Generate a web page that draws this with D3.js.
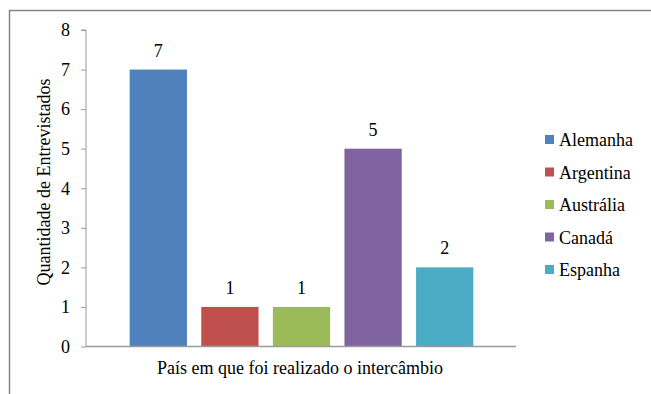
<!DOCTYPE html>
<html>
<head>
<meta charset="utf-8">
<script src="https://cdn.jsdelivr.net/npm/d3@7"></script>
</head>
<body style="margin:0">
<svg id="s" width="651" height="394"></svg>
<script>
// Entrevistados por país de intercâmbio
const countries = ["Alemanha", "Argentina", "Austrália", "Canadá", "Espanha"];
const counts = [7, 1, 1, 5, 2];
const colors = ["#4F81BD", "#C0504D", "#9BBB59", "#8064A2", "#4BACC6"];
const yTicks = [0, 1, 2, 3, 4, 5, 6, 7, 8];
const xTitle = "País em que foi realizado o intercâmbio";
const yTitle = "Quantidade de Entrevistados";

const FONT = '"Liberation Serif"';
const FS = "18px";

const svg = d3.select("#s");
const plot = { left: 86, right: 516, top: 30, bottom: 346.5 };

// Outer chart frame (runs past the right and bottom edges)
svg.append("rect")
  .attr("x", 9.5).attr("y", 10.5)
  .attr("width", 700).attr("height", 500)
  .attr("fill", "none").attr("stroke", "#868686").attr("stroke-width", 1.5);

const y = d3.scaleLinear().domain([0, 8]).range([plot.bottom, plot.top]);

// Bars share one category; each series gets its own slot
const x = d3.scaleBand()
  .domain(countries)
  .range([122.5, 480.5])
  .paddingInner(0.2)
  .paddingOuter(0.1);

// Y axis
const yAxis = d3.axisLeft(y).tickValues(yTicks).tickSize(5).tickPadding(11).tickFormat(d3.format("d"));
const gy = svg.append("g").attr("transform", `translate(${plot.left},0)`).call(yAxis);
gy.select(".domain").attr("stroke", "#9a9a9a").attr("d", `M-5,${plot.top}H0V${plot.bottom}`);
gy.selectAll(".tick line").attr("stroke", "#9a9a9a");
gy.selectAll(".tick text").attr("fill", "#000")
  .style("font-family", FONT).style("font-size", FS);

// Bars
svg.append("g").selectAll("rect")
  .data(countries)
  .join("rect")
  .attr("x", d => x(d))
  .attr("width", x.bandwidth())
  .attr("y", (d, i) => y(counts[i]))
  .attr("height", (d, i) => y(0) - y(counts[i]))
  .attr("fill", (d, i) => colors[i]);

// Value labels
svg.append("g").selectAll("text")
  .data(countries)
  .join("text")
  .attr("x", d => x(d) + x.bandwidth() / 2)
  .attr("y", (d, i) => y(counts[i]) - 13)
  .attr("text-anchor", "middle")
  .style("font-family", FONT).style("font-size", FS)
  .text((d, i) => counts[i]);

// X axis baseline
svg.append("line")
  .attr("x1", plot.left).attr("x2", plot.right)
  .attr("y1", plot.bottom).attr("y2", plot.bottom)
  .attr("stroke", "#9a9a9a").attr("stroke-width", 1.5);

// Axis titles
svg.append("text")
  .attr("x", 300).attr("y", 374)
  .attr("text-anchor", "middle")
  .style("font-family", FONT).style("font-size", FS)
  .text(xTitle);

svg.append("text")
  .attr("transform", "translate(50,182) rotate(-90)")
  .attr("text-anchor", "middle")
  .style("font-family", FONT).style("font-size", FS)
  .text(yTitle);

// Legend
const legend = svg.append("g").selectAll("g")
  .data(countries)
  .join("g")
  .attr("transform", (d, i) => `translate(545,${140 + i * 32.5})`);
legend.append("rect")
  .attr("x", 0).attr("y", -5)
  .attr("width", 9).attr("height", 9)
  .attr("fill", (d, i) => colors[i]);
legend.append("text")
  .attr("x", 14).attr("y", 6)
  .style("font-family", FONT).style("font-size", FS)
  .text(d => d);
</script>
</body>
</html>
